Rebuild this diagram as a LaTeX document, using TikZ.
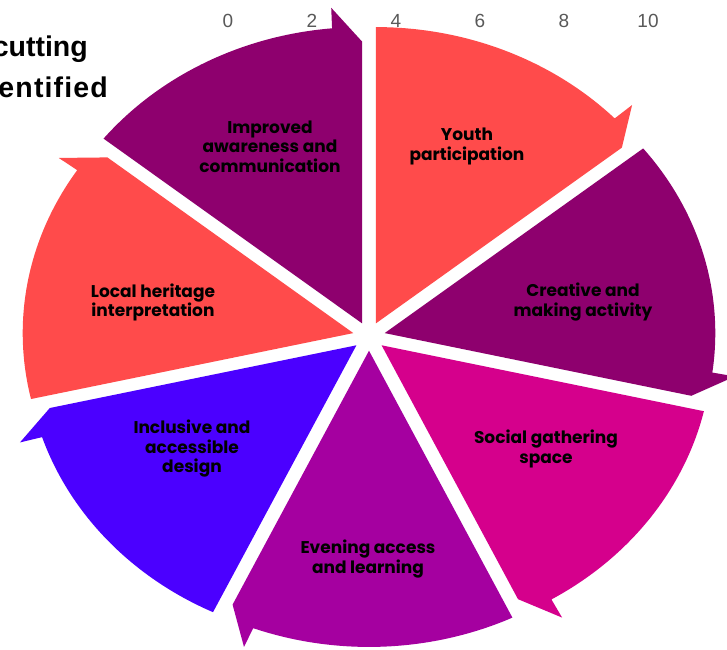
\documentclass[tikz,border=0pt]{standalone}
\usepackage{fontspec}
\setmainfont{Poppins}
\newfontfamily\numfont{Liberation Sans}
\newfontfamily\headfont{Liberation Sans}[Ligatures=NoCommon]
\newfontfamily\headwidefont{Liberation Sans}[Ligatures=NoCommon, LetterSpace=4]
\definecolor{cRed}{RGB}{255,75,75}
\definecolor{cPlum}{RGB}{142,0,110}
\definecolor{cMag}{RGB}{213,0,140}
\definecolor{cVio}{RGB}{165,0,160}
\definecolor{cBlue}{RGB}{75,0,255}
\definecolor{cNum}{RGB}{89,89,89}
\newcommand\drawseg[3]{%
  \pgfmathsetmacro\segmid{((#2)+(#3))/2}%
  \fill[#1, shift={(\segmid:16.1)}] (0,0) -- (#2:330.6)
    arc[start angle=#2, end angle={(#3)+5.2}, radius=330.6]
    -- ({(#3)+5}:353.5) -- (#3:314.5) -- cycle;}
\begin{document}
\begin{tikzpicture}[x=1pt,y=1pt,
  lbl/.style={font=\fontsize{17}{19.5}\selectfont\bfseries, align=center, text=black, inner sep=0pt},
  axnum/.style={font=\numfont\fontsize{19}{19}\selectfont, text=cNum, inner sep=0pt},
  headtxt/.style={font=\headfont\fontsize{28.5}{28.5}\selectfont\bfseries, text=black, inner sep=0pt, anchor=base east},
  headwide/.style={headtxt, font=\headwidefont\fontsize{28.5}{28.5}\selectfont\bfseries}]
\useasboundingbox (0,0) rectangle (727,649);
\clip (0,0) rectangle (727,649);
\fill[white] (0,0) rectangle (727,649);
% axis numbers
\node[axnum] (n0) at (228,628) {0};
\node[axnum] (n2) at (312,628) {2};
\node[axnum] (n4) at (396,628) {4};
\node[axnum] (n6) at (480,628) {6};
\node[axnum] (n8) at (564,628) {8};
\node[axnum] (n10) at (648,628) {10};
% cropped heading
\node[headtxt] (h1) at (88,592) {cutting};
\node[headwide] (h2) at (108,551.5) {entified};
% segments
\begin{scope}[shift={(369,312.7)}, yscale=0.896]
\drawseg{cRed}{90}{38.57}
\drawseg{cPlum}{38.57}{-12.86}
\drawseg{cMag}{-12.86}{-64.29}
\drawseg{cVio}{-64.29}{-115.71}
\drawseg{cBlue}{-115.71}{-167.14}
\drawseg{cRed}{-167.14}{-218.57}
\drawseg{cPlum}{-218.57}{-270}
\end{scope}
% labels
\node[lbl] (improved) at (270,502.5) {Improved\\awareness and\\communication};
\node[lbl] (youth) at (467,502.5) {Youth\\participation};
\node[lbl] (creative) at (583,347) {Creative and\\making activity};
\node[lbl] (social) at (546,200) {Social gathering\\space};
\node[lbl] (evening) at (368,90) {Evening access\\and learning};
\node[lbl] (inclusive) at (192,200) {Inclusive and\\accessible\\design};
\node[lbl] (local) at (153,346.5) {Local heritage\\interpretation};
\end{tikzpicture}
\end{document}
